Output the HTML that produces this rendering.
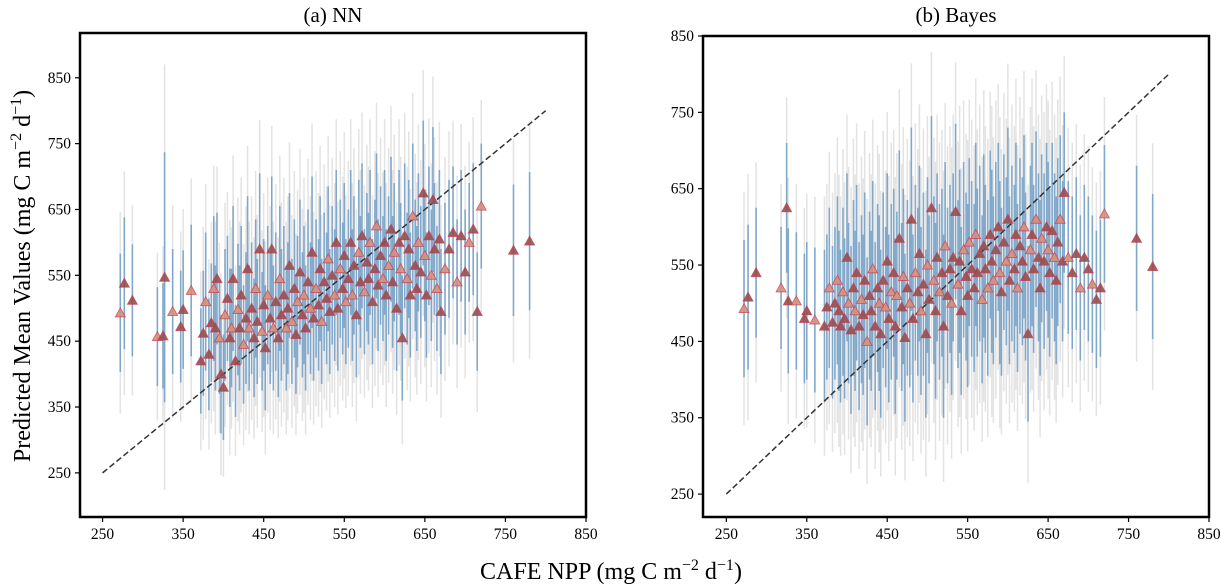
<!DOCTYPE html>
<html><head><meta charset="utf-8">
<style>
html,body{margin:0;padding:0;background:#fff;}
svg{display:block;font-family:"Liberation Serif","DejaVu Serif",serif;}
</style></head>
<body>
<svg id="chart" width="1221" height="586" viewBox="0 0 1221 586" xmlns="http://www.w3.org/2000/svg">
<text x="333" y="22" font-size="21" text-anchor="middle">(a) NN</text>
<text x="956" y="22" font-size="21" text-anchor="middle">(b) Bayes</text>
<text x="611" y="579" font-size="24" text-anchor="middle">CAFE NPP (mg C m<tspan dy="-9" font-size="16">−2</tspan><tspan dy="9"> d</tspan><tspan dy="-9" font-size="16">−1</tspan><tspan dy="9">)</tspan></text>
<text transform="translate(30,276) rotate(-90)" font-size="24" text-anchor="middle">Predicted Mean Values (mg C m<tspan dy="-9" font-size="16">−2</tspan><tspan dy="9"> d</tspan><tspan dy="-9" font-size="16">−1</tspan><tspan dy="9">)</tspan></text>
<g id="pa"></g>
<g id="pb"></g>
</svg>
<script>
const npp=[272,277,287,318,325,327,337,347,350,360,372,375,378,382,385,388,390,392,395,397,400,402,405,408,410,412,415,418,420,422,425,428,430,432,435,438,440,442,445,448,450,452,455,458,460,462,465,468,470,472,475,478,480,482,485,488,490,492,495,498,500,502,505,508,510,512,515,518,520,522,525,528,530,532,535,538,540,542,545,548,550,552,555,558,560,562,565,568,570,572,575,578,580,582,585,588,590,592,595,598,600,602,605,608,610,612,615,618,620,622,625,628,630,632,635,638,640,642,645,648,650,652,655,658,660,662,665,668,670,675,680,685,690,695,700,705,710,715,720,760,780];
const nnMean=[493,538,512,457,458,547,495,472,498,527,420,462,510,430,478,530,470,545,455,400,380,490,515,455,470,545,420,498,470,520,445,485,560,470,500,455,530,480,590,465,505,440,520,485,590,470,510,455,545,490,520,470,500,565,480,530,460,510,555,490,520,470,540,500,585,485,530,505,560,480,540,515,575,495,550,520,600,500,560,530,580,510,545,600,520,565,490,585,540,610,525,570,545,600,510,560,625,535,580,545,600,520,565,620,540,585,500,600,560,455,610,545,590,520,640,565,530,600,555,675,580,520,610,550,665,590,530,605,495,560,590,615,540,610,555,600,620,495,655,588,602];
const nnSd=[90,100,85,75,80,190,95,85,90,100,80,95,105,85,90,110,95,100,85,90,80,100,95,105,90,110,85,100,95,105,90,100,110,95,100,90,105,95,115,90,100,95,105,100,110,95,105,90,110,100,105,95,100,110,95,105,90,100,110,95,105,95,110,100,115,95,105,100,110,95,105,100,110,95,105,100,110,95,105,100,110,95,105,110,100,105,95,110,100,110,95,105,100,110,95,105,110,100,105,95,110,100,105,110,100,105,95,110,100,95,110,100,105,95,110,100,95,105,100,110,100,95,105,100,110,100,95,105,95,100,105,100,95,100,95,90,100,90,95,100,105];
const byMean=[493,508,540,520,625,503,503,480,490,478,470,495,520,475,500,530,490,470,515,480,560,500,465,520,490,540,470,505,485,530,450,510,490,545,470,520,500,460,530,495,555,480,515,540,470,510,585,495,535,455,520,500,610,480,540,515,565,490,525,460,550,505,625,530,490,560,515,540,470,575,510,545,500,560,620,525,555,490,570,535,510,580,545,520,590,540,565,505,575,545,520,590,555,530,570,600,540,515,580,555,610,530,565,545,590,520,575,555,600,535,460,570,590,545,610,560,520,585,555,600,570,540,595,560,530,580,610,555,645,560,540,565,520,560,545,525,505,520,617,585,548];
const bySd=[90,95,85,80,85,95,90,85,90,95,100,95,105,100,100,110,105,100,110,105,110,105,110,115,105,115,110,110,105,115,110,110,105,115,110,110,115,110,115,105,115,110,115,110,115,110,115,110,115,110,115,110,120,110,115,110,115,110,120,110,115,110,120,110,115,110,115,110,120,110,115,110,120,110,115,110,120,110,115,110,120,110,115,110,120,110,115,110,120,110,115,110,120,110,115,110,120,110,115,110,120,110,115,110,120,110,115,110,120,110,115,110,120,110,115,110,115,110,115,110,115,110,115,110,110,110,110,105,105,100,100,100,95,95,95,90,90,90,90,95,95];
const xTicks=[250,350,450,550,650,750,850];
const yTicks=[250,350,450,550,650,750,850];
const grayMult=1.7;
const NS="http://www.w3.org/2000/svg";
function mk(tag,attrs,parent){const e=document.createElementNS(NS,tag);for(const k in attrs)e.setAttribute(k,attrs[k]);parent.appendChild(e);return e;}
function panel(g,px0,px1,py0,py1,xmin,xmax,ymin,ymax,mean,sd){
  const sx=v=>px0+(v-xmin)/(xmax-xmin)*(px1-px0);
  const sy=v=>py1-(v-ymin)/(ymax-ymin)*(py1-py0);
  const clipId='c'+px0;
  const defs=mk('defs',{},g);const cp=mk('clipPath',{id:clipId},defs);mk('rect',{x:px0,y:py0,width:px1-px0,height:py1-py0},cp);
  const inner=mk('g',{'clip-path':'url(#'+clipId+')'},g);
  for(let i=0;i<npp.length;i++){
    const l=mk('line',{x1:sx(npp[i]),x2:sx(npp[i]),y1:sy(mean[i]-grayMult*sd[i]),y2:sy(mean[i]+grayMult*sd[i]),stroke:'#c8c8c8','stroke-opacity':0.5,'stroke-width':1.5},inner);
    
    
  }
  for(let i=0;i<npp.length;i++){
    const l=mk('line',{x1:sx(npp[i]),x2:sx(npp[i]),y1:sy(mean[i]-sd[i]),y2:sy(mean[i]+sd[i]),stroke:'#3f7fb8','stroke-opacity':0.6,'stroke-width':1.6},inner);
    
    
  }
  const d=mk('line',{x1:sx(250),y1:sy(250),x2:sx(800),y2:sy(800),stroke:'#333','stroke-width':1.5,'stroke-dasharray':'6,3'},inner);
  
  
  for(let i=0;i<npp.length;i++){
    const x=sx(npp[i]),y=sy(mean[i]),s=5;
    const t=mk('polygon',{points:`${x},${y-s} ${x-s},${y+s*0.8} ${x+s},${y+s*0.8}`,fill:i%3===0?'#d4907c':'#94504e','fill-opacity':0.9,stroke:'#c8374a','stroke-opacity':0.7,'stroke-width':0.9},inner);
    
    
  }
  const fr=mk('rect',{x:px0,y:py0,width:px1-px0,height:py1-py0,fill:'none',stroke:'#000','stroke-width':2.5},g);
  
  
  xTicks.forEach(v=>{const x=sx(v);mk('line',{x1:x,x2:x,y1:py1,y2:py1+5,stroke:'#000','stroke-width':1.2},g);
    const t=mk('text',{x:x,y:py1+22,'font-size':15.5,'text-anchor':'middle'},g);t.textContent=v;
    
    });
  yTicks.forEach(v=>{if(v<ymin||v>ymax)return;const y=sy(v);mk('line',{x1:px0-5,x2:px0,y1:y,y2:y,stroke:'#000','stroke-width':1.2},g);
    const t=mk('text',{x:px0-9,y:y+5,'font-size':15.5,'text-anchor':'end'},g);t.textContent=v;
    
    });
}
panel(document.getElementById('pa'),80,586,33,517,222,850,183,918,nnMean,nnSd);
panel(document.getElementById('pb'),703,1209,36,517,221,850,220,850,byMean,bySd);
</script>
</body></html>
